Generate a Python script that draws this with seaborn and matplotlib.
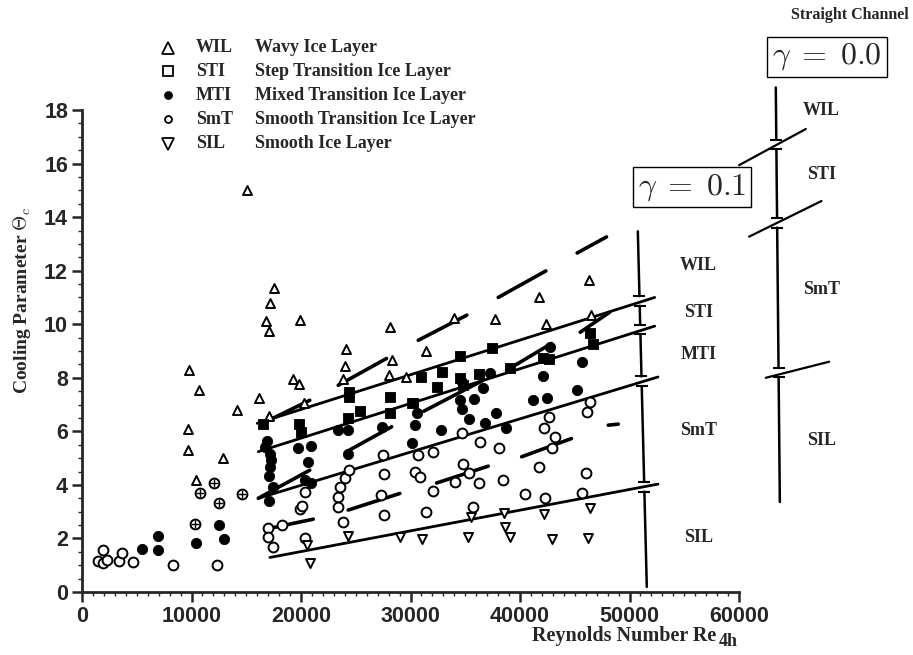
import pandas as pd
import seaborn as sns
import matplotlib.pyplot as plt

# ice-layer regimes: Reynolds number Re_4h, cooling parameter theta_c
wil_re = [15065, 17530, 17170, 16800, 17070, 19900, 9770, 10680, 9700, 9650,
          10400, 12850, 14120, 16130, 19290, 19840, 17070, 20270, 24080, 24040,
          23860, 28120, 28330, 28030, 29620, 31380, 33980, 37680, 41720, 46260,
          42360, 46500]
wil_th = [15.0, 11.37, 10.8, 10.12, 9.74, 10.17, 8.28, 7.54, 6.1, 5.3,
          4.2, 4.99, 6.79, 7.23, 7.94, 7.76, 6.57, 7.06, 9.09, 8.43,
          7.97, 9.88, 8.66, 8.12, 8.03, 9.0, 10.25, 10.2, 11.0, 11.64,
          10.0, 10.34]

sti_re = [16500, 19840, 19970, 24400, 24400, 24310, 25380, 28120, 28120, 30100,
          30950, 32840, 32380, 34510, 34510, 34810, 36300, 37410, 39080, 42060,
          42660, 46380, 46630, 30190]
sti_th = [6.29, 6.29, 5.98, 7.47, 7.29, 6.48, 6.75, 7.29, 6.69, 7.04,
          8.03, 8.2, 7.66, 8.81, 8.01, 7.72, 8.15, 9.12, 8.35, 8.72,
          8.71, 9.69, 9.25, 7.07]

mti_re = [5450, 6910, 6910, 10410, 12540, 12960, 16860, 16710, 17160, 17260,
          17160, 17070, 17410, 17070, 19750, 20910, 20660, 20360, 20910, 23400,
          24310, 24310, 27360, 30560, 30400, 30100, 32780, 34660, 34510, 34660,
          35790, 35360, 36790, 36640, 37850, 38710, 41150, 42480, 42060, 42730,
          45620, 45220, 37300]
mti_th = [1.59, 2.09, 1.57, 1.84, 2.5, 1.97, 5.65, 5.43, 5.17, 4.93,
          4.68, 4.33, 3.93, 3.41, 5.36, 5.45, 4.86, 4.18, 4.06, 6.04,
          6.04, 5.17, 6.17, 6.67, 6.23, 5.57, 6.04, 7.85, 7.16, 6.85,
          7.22, 6.45, 6.32, 7.6, 6.67, 6.13, 7.16, 7.26, 8.06, 9.15,
          8.59, 7.56, 8.16]

smt_re = [1490, 1950, 1950, 2310, 3380, 3680, 4630, 8280, 12300, 17010,
          17010, 17410, 18230, 19900, 20100, 20360, 20360, 23400, 23550, 24010,
          24400, 23400, 23800, 27450, 27570, 27270, 27600, 30400, 30860, 30700,
          32020, 32070, 31400, 34810, 35360, 34050, 35730, 36270, 34660, 36350,
          38100, 38460, 40450, 41750, 42270, 42180, 43180, 42660, 42880, 46070,
          45620, 46380, 46130]
smt_th = [1.17, 1.57, 1.07, 1.19, 1.16, 1.44, 1.13, 1.01, 1.01, 2.4,
          2.04, 1.69, 2.5, 3.09, 3.2, 2.0, 3.74, 3.56, 3.93, 4.24,
          4.55, 3.18, 2.62, 5.11, 4.4, 3.62, 2.87, 4.49, 4.3, 5.11,
          5.24, 3.78, 2.98, 4.77, 4.45, 4.12, 3.18, 4.08, 5.95, 5.59,
          5.36, 4.2, 3.66, 4.68, 3.5, 6.11, 5.8, 6.54, 5.36, 4.43,
          3.68, 7.1, 6.73]

# crossed circles (no legend entry)
cross_re = [10770, 12080, 12510, 10320, 14580]
cross_th = [3.68, 4.08, 3.31, 2.53, 3.66]

sil_re = [20820, 20510, 24310, 29030, 31010, 35270, 35570, 39080, 38560, 38620,
          42880, 42180, 46230, 46380]
sil_th = [1.07, 1.75, 2.09, 2.06, 1.97, 2.06, 2.81, 2.06, 2.94, 2.44,
          1.98, 2.9, 2.03, 3.12]

# gamma = 0.1 regime boundaries (start, end)
bound_re = [(16000, 52300), (16100, 52300), (16100, 52600), (17160, 52600)]
bound_th = [(6.3, 11.0), (5.24, 9.93), (3.5, 8.03), (1.29, 4.03)]

# short dashes of the straight-channel boundaries
dash_re = [(23400, 27810), (30710, 35150), (38010, 42360), (45220, 47900),
           (16500, 20800), (31200, 36600), (38770, 42880), (45500, 48200),
           (24160, 28280), (16100, 20800), (16710, 21120), (24310, 29030),
           (32380, 37100), (40150, 44700), (48060, 48970)]
dash_th = [(7.72, 8.72), (9.4, 10.34), (11.0, 11.99), (12.66, 13.26),
           (6.3, 7.16), (6.75, 7.9), (8.28, 9.28), (9.7, 10.45),
           (5.24, 6.17), (3.5, 4.55), (2.34, 2.72), (3.06, 3.68),
           (4.07, 4.7), (5.05, 5.73), (6.23, 6.27)]

# regime scale for gamma = 0.1 (bar at right of data) and straight channel
bar01_re = (50760, 51580)
bar01_th = (13.47, 0.19)
bar01_breaks = [10.87, 9.80, 7.87, 3.93]
bar00_re = (63360, 63730)
bar00_th = (18.84, 3.36)
bar00_breaks = [16.71, 13.79, 8.2]
slash00_re = [(60010, 66100), (60920, 67530), (62450, 68230)]
slash00_th = [(15.94, 17.29), (13.27, 14.6), (8.0, 8.6)]

labels01 = ['WIL', 'STI', 'MTI', 'SmT', 'SIL']
labels01_th = [12.2, 10.45, 8.88, 6.04, 2.05]
labels00 = ['WIL', 'STI', 'SmT', 'SIL']
labels00_th = [17.99, 15.6, 11.3, 5.67]

legend_codes = ['WIL', 'STI', 'MTI', 'SmT', 'SIL']
legend_names = ['Wavy Ice Layer', 'Step Transition Ice Layer', 'Mixed Transition Ice Layer',
                'Smooth Transition Ice Layer', 'Smooth Ice Layer']

sns.set_style('ticks')
plt.rcParams['font.family'] = ['Liberation Serif', 'DejaVu Serif']
plt.rcParams['mathtext.fontset'] = 'cm'

fig = plt.figure(figsize=(9.13, 6.55), dpi=100)
ax = fig.add_axes([82 / 913, 63 / 655, 657 / 913, 482 / 655])

kw_open = dict(facecolor='white', edgecolor='black', linewidth=1.4, ax=ax, zorder=4)
sns.scatterplot(x=wil_re, y=wil_th, marker='^', s=42, **kw_open)
sns.scatterplot(x=smt_re, y=smt_th, marker='o', s=50, **kw_open)
sns.scatterplot(x=cross_re, y=cross_th, marker='o', s=50, **kw_open)
sns.scatterplot(x=cross_re, y=cross_th, marker='+', s=38, color='black', linewidth=1.0, ax=ax, zorder=5)
sns.scatterplot(x=sil_re, y=sil_th, marker='v', s=42, **kw_open)
sns.scatterplot(x=sti_re, y=sti_th, marker='s', s=60, color='black', edgecolor='black', ax=ax, zorder=4)
sns.scatterplot(x=mti_re, y=mti_th, marker='o', s=55, color='black', edgecolor='black', ax=ax, zorder=4)


def seg_frame(xs, ys):
    rows = []
    for i, (x, y) in enumerate(zip(xs, ys)):
        rows.append((i, x[0], y[0]))
        rows.append((i, x[1], y[1]))
    return pd.DataFrame(rows, columns=['seg', 're', 'th'])


sns.lineplot(data=seg_frame(bound_re, bound_th), x='re', y='th', units='seg', estimator=None,
             sort=False, color='black', lw=2.0, ax=ax, zorder=3)
sns.lineplot(data=seg_frame(dash_re, dash_th), x='re', y='th', units='seg', estimator=None,
             sort=False, color='black', lw=2.6, ax=ax, zorder=3)


def scale_bar(re, th, breaks, gap):
    # vertical bar split at each boundary
    stops = [th[0]] + [v for b in breaks for v in (b + gap, b - gap)] + [th[1]]
    for top, bot in zip(stops[::2], stops[1::2]):
        xs = [re[0] + (re[1] - re[0]) * (th[0] - v) / (th[0] - th[1]) for v in (top, bot)]
        ax.plot(xs, [top, bot], color='black', lw=1.8, clip_on=False)
        if top != th[0]:
            ax.plot(xs[0], top, marker='_', ms=8, mew=1.5, color='black', clip_on=False)
        if bot != th[1]:
            ax.plot(xs[1], bot, marker='_', ms=8, mew=1.5, color='black', clip_on=False)


scale_bar(bar01_re, bar01_th, bar01_breaks, 0.18)
scale_bar(bar00_re, bar00_th, bar00_breaks, 0.18)
for xs, ys in zip(slash00_re, slash00_th):
    ax.plot(xs, ys, color='black', lw=1.6, clip_on=False)

for lab, th in zip(labels01, labels01_th):
    ax.text(56300, th, lab, ha='center', va='center', fontsize=13, fontweight='bold', clip_on=False)
for lab, th in zip(labels00, labels00_th):
    ax.text(67500, th, lab, ha='center', va='center', fontsize=13, fontweight='bold', clip_on=False)

box = dict(boxstyle='square,pad=0.15', facecolor='white', edgecolor='black', linewidth=1.0)
fig.text(692 / 913, 1 - 187 / 655, r'$\gamma\;=\;0.1$', ha='center', va='center', fontsize=23, bbox=box)
fig.text(827 / 913, 1 - 57 / 655, r'$\gamma\;=\;0.0$', ha='center', va='center', fontsize=23, bbox=box)
fig.text(850 / 913, 1 - 15 / 655, 'Straight Channel', ha='center', va='center',
         fontsize=11.5, fontweight='bold')

# legend
leg_y = [48, 71, 95, 119, 144]
leg_marks = [('^', 8, 'white'), ('s', 7, 'white'), ('o', 5, 'black'), ('o', 5, 'white'), ('v', 8, 'white')]
for py, code, name, (m, ms, fc) in zip(leg_y, legend_codes, legend_names, leg_marks):
    yf = 1 - py / 655
    ax.plot([168 / 913], [yf], marker=m, ms=ms, mfc=fc, mec='black', mew=1.3,
            transform=fig.transFigure, clip_on=False)
    fig.text(196 / 913, yf, code, ha='left', va='center', fontsize=13, fontweight='bold')
    fig.text(255 / 913, yf, name, ha='left', va='center', fontsize=13, fontweight='bold')

ax.set_xlim(0, 60000)
ax.set_ylim(0, 18)
ax.set_xticks(range(0, 60001, 10000))
ax.set_xticks(range(0, 60001, 1000), minor=True)
ax.set_yticks(range(0, 19, 2))
ax.set_yticks([i * 0.5 for i in range(37)], minor=True)
for lab in ax.get_xticklabels() + ax.get_yticklabels():
    lab.set_family(['Liberation Sans', 'DejaVu Sans'])
    lab.set_fontweight('bold')
    lab.set_fontsize(15.5)
ax.tick_params(which='major', direction='out', length=7, width=1.8, pad=3)
ax.tick_params(which='minor', direction='out', length=3, width=1.0)
sns.despine(ax=ax)
for sp in ('left', 'bottom'):
    ax.spines[sp].set_linewidth(2.0)

ax.set_xlabel('')
ax.set_ylabel('')
xl = fig.text(532 / 913, 1 - 636 / 655, 'Reynolds Number Re', ha='left', va='center',
              fontsize=14.5, fontweight='bold')
ext = xl.get_window_extent(renderer=fig.canvas.get_renderer())
fig.text((ext.x1 + 2) / 913, 1 - 642 / 655, '4h', ha='left', va='center',
         fontsize=13, fontweight='bold')
fig.text(22 / 913, 1 - 300 / 655, r'Cooling Parameter $\Theta_c$', ha='center', va='center',
         rotation=90, fontsize=14, fontweight='bold')

fig.savefig('out.png', dpi=100)
